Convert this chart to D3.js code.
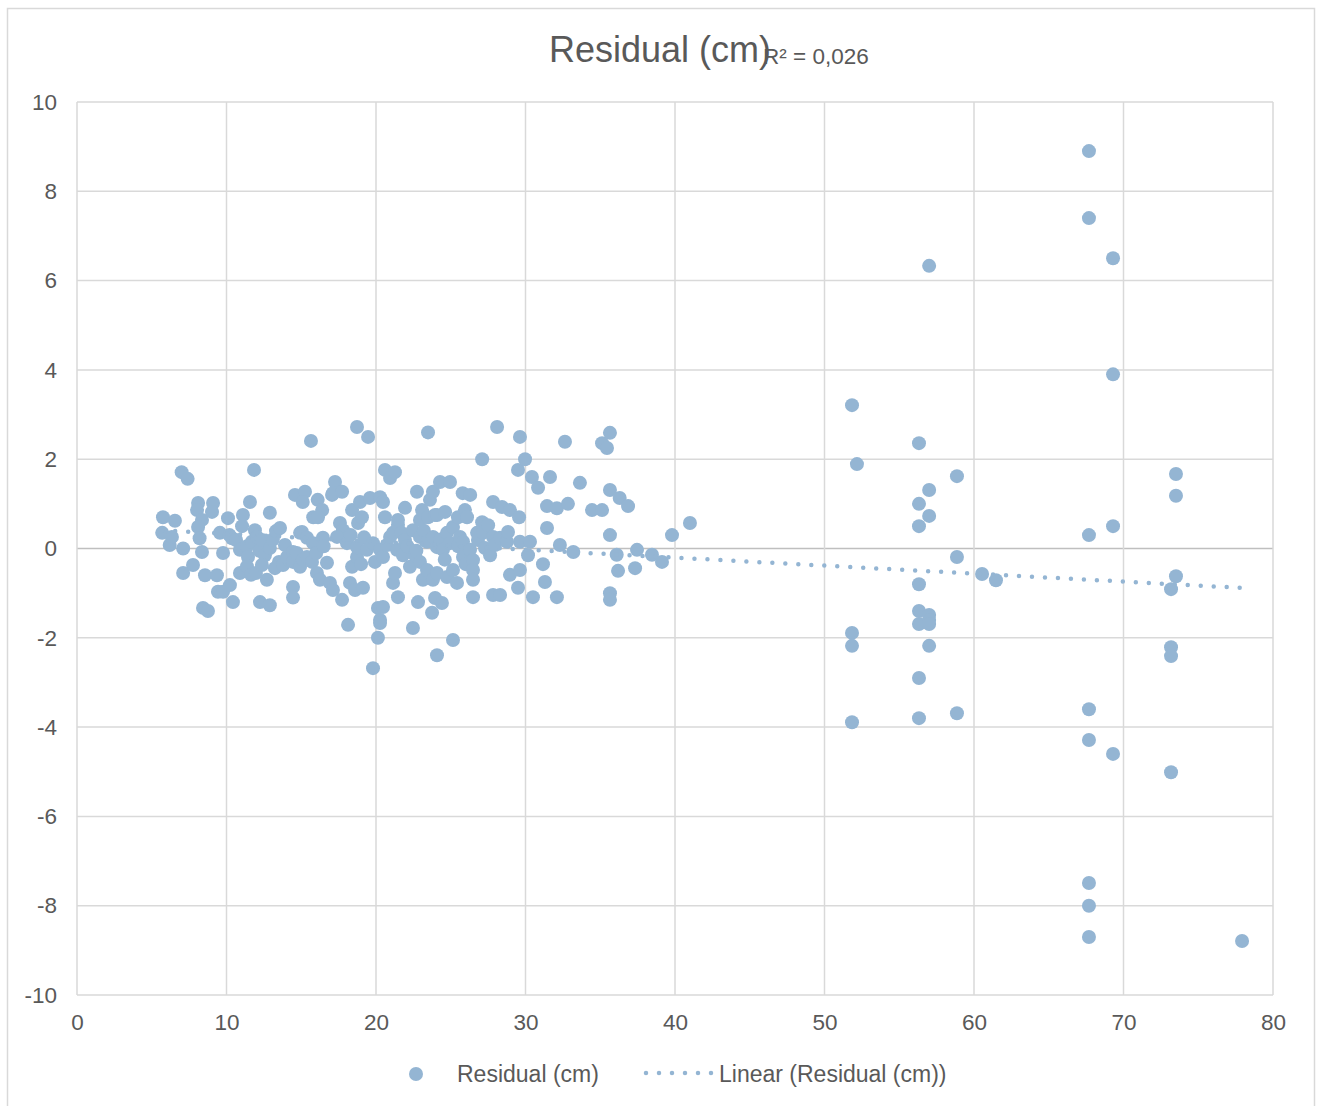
<!DOCTYPE html>
<html>
<head>
<meta charset="utf-8">
<script src="https://cdn.jsdelivr.net/npm/d3@7"></script>
<style>
	html, body { margin: 0; padding: 0; background: #fff; }
	svg text { font-family: "Liberation Sans", Arial, sans-serif; fill: #595959; }
</style>
</head>
<body>
<div id="chart"></div>
<script>
'use strict';

// chart values
var chartTitle   = 'Residual (cm)';
var seriesName   = 'Residual (cm)';
var trendName    = 'Linear (Residual (cm))';
var rSquaredText = 'R² = 0,026';
var xTicks = [0, 10, 20, 30, 40, 50, 60, 70, 80];
var yTicks = [-10, -8, -6, -4, -2, 0, 2, 4, 6, 8, 10];

// residual points, [x, residual]
var residuals = [
	// 5 - 15
	[5.7, 0.35], [5.75, 0.7], [6.2, 0.08], [6.35, 0.26], [6.55, 0.62], [7.0, 1.71], [7.4, 1.56],
	[7.1, 0.0], [7.1, -0.55], [7.76, -0.37], [8.1, 1.02], [8.03, 0.86], [8.36, 0.64], [8.1, 0.48],
	[8.2, 0.23], [8.36, -0.08], [8.56, -0.6], [8.43, -1.33], [8.76, -1.4], [9.1, 1.02], [9.03, 0.82],
	[9.56, 0.35], [9.36, -0.6], [9.43, -0.97], [9.77, -0.1], [9.77, -0.97], [10.1, 0.68], [10.37, 0.23],
	[10.2, 0.3], [10.64, 0.19], [10.9, -0.03], [10.23, -0.82], [10.43, -1.2], [10.9, -0.55], [11.1, 0.75],
	[11.04, 0.5], [11.57, 1.04], [11.84, 1.76], [11.37, 0.05], [11.44, -0.19], [11.37, -0.4], [11.64, -0.59],
	[11.7, 0.15], [11.97, -0.55], [11.9, 0.41], [12.04, 0.26], [12.2, -0.05], [12.37, 0.19], [12.57, -0.15],
	[12.37, -0.37], [12.7, -0.7], [12.24, -1.2], [12.9, 0.8], [12.9, 0.01], [12.9, -1.27], [13.1, 0.2],
	[13.31, 0.39], [13.58, 0.46], [13.51, -0.3], [13.24, -0.44], [13.78, -0.37], [13.91, 0.08], [14.18, -0.26],
	[14.05, -0.19], [14.45, -0.08], [14.45, -0.3], [14.45, -0.86], [14.45, -1.1], [14.58, 1.2], [14.7, -0.1],
	[14.92, 0.35], [14.92, -0.41],
	// 15 - 20
	[15.25, 1.27], [15.1, 1.04], [15.1, -0.25], [15.65, 2.41], [15.05, 0.37], [15.38, 0.24], [15.38, -0.19],
	[15.72, -0.3], [15.79, 0.12], [15.8, 0.7], [16.0, -0.1], [16.1, 1.09], [16.4, 0.86], [16.12, 0.7],
	[16.45, 0.24], [16.5, 0.05], [16.05, -0.55], [16.25, -0.7], [16.72, -0.32], [16.92, -0.77], [17.06, 1.2],
	[17.26, 1.49], [17.12, 1.24], [17.73, 1.27], [17.59, 0.57], [17.79, 0.41], [17.39, 0.26], [17.12, -0.93],
	[17.73, -1.15], [18.06, 0.12], [18.13, -1.71], [18.26, -0.77], [18.3, 0.3], [18.4, -0.41], [18.4, 0.86],
	[18.6, -0.93], [18.73, 2.72], [18.73, -0.19], [18.73, 0.03], [18.8, 0.57], [18.93, 1.04], [19.0, -0.35],
	[19.06, 0.7], [19.13, -0.88], [19.2, 0.25], [19.4, -0.03], [19.47, 2.5], [19.6, 1.13], [19.8, 0.12],
	[19.8, -2.68], [19.93, -0.3],
	// 20 - 30
	[20.13, -1.33], [20.13, -2.0], [20.27, -0.03], [20.27, 1.15], [20.27, -1.6], [20.27, -1.67],
	[20.47, 1.04], [20.47, -0.19], [20.47, -1.31], [20.6, 1.76], [20.6, 0.7], [20.74, 0.08], [20.94, 1.58],
	[20.94, 0.26], [21.14, 0.35], [21.14, -0.77], [21.27, 1.71], [21.27, -0.55], [21.4, -0.03], [21.47, 0.53],
	[21.47, 0.64], [21.47, -1.09], [21.7, 0.35], [21.8, -0.15], [21.94, 0.91], [21.94, 0.19], [22.1, 0.05],
	[22.27, -0.41], [22.47, 0.41], [22.47, -1.78], [22.61, -0.15], [22.7, -0.05], [22.74, 1.27], [22.81, -1.2],
	[22.94, 0.64], [22.94, 0.26], [22.94, -0.3], [23.08, 0.86], [23.14, -0.7], [23.2, 0.4], [23.41, 0.15],
	[23.41, -0.48], [23.48, 2.6], [23.48, 0.7], [23.61, 1.09], [23.75, -1.44], [23.81, 1.27], [23.81, 0.26],
	[23.81, -0.7], [23.95, 0.75], [23.95, -1.11], [24.08, 0.03], [24.08, 0.75], [24.08, -0.55], [24.08, -2.39],
	[24.28, 1.49], [24.3, 0.2], [24.41, -1.22], [24.48, -0.03], [24.6, -0.25], [24.62, 0.82], [24.75, 0.35],
	[24.75, -0.64], [24.95, 1.49], [24.95, 0.12], [25.15, 0.48], [25.15, -0.48], [25.15, -2.05], [25.42, -0.77],
	[25.48, 0.7], [25.5, 0.05], [25.62, 0.26], [25.8, 1.24], [25.82, 0.15], [25.82, -0.19], [25.95, 0.86],
	[26.0, -0.35], [26.09, 0.7], [26.29, -0.03], [26.3, 1.2], [26.49, -0.26], [26.49, -0.48], [26.49, -0.7],
	[26.49, -1.09], [26.76, 0.35], [26.82, 0.19], [27.1, 2.0], [27.1, 0.59], [27.16, 0.35], [27.29, 0.01],
	[27.5, 0.52], [27.63, -0.15], [27.83, 1.04], [27.83, 0.26], [27.83, -1.04], [27.96, 0.08], [28.1, 2.72],
	[28.3, 0.24], [28.3, -1.04], [28.43, 0.93], [28.76, 0.15], [28.83, 0.37], [28.96, 0.86], [28.96, -0.59],
	[29.5, 1.76], [29.5, -0.88], [29.57, 0.7], [29.63, 2.5], [29.63, 0.15], [29.63, -0.48], [29.97, 2.0],
	// 30 - 41
	[30.17, -0.15], [30.3, 0.15], [30.43, 1.6], [30.5, -1.09], [30.84, 1.36], [31.17, -0.35], [31.3, -0.75],
	[31.44, 0.95], [31.44, 0.46], [31.64, 1.6], [32.1, 0.9], [32.1, -1.09], [32.3, 0.08], [32.64, 2.39],
	[32.84, 1.0], [33.2, -0.08], [33.64, 1.47], [34.45, 0.86], [35.12, 2.36], [35.12, 0.86], [35.45, 2.25],
	[35.65, 2.59], [35.65, 1.31], [35.65, 0.3], [35.65, -1.0], [35.65, -1.15], [36.1, -0.14], [36.19, -0.5],
	[36.3, 1.13], [36.86, 0.95], [37.33, -0.44], [37.46, -0.03], [38.46, -0.14], [39.13, -0.3], [39.8, 0.3],
	[41.0, 0.57],
	// 50 - 78
	[51.84, 3.21], [52.17, 1.89], [51.84, -1.89], [51.84, -2.18], [51.84, -3.89],
	[56.32, 2.36], [56.32, 1.0], [56.32, 0.5], [56.32, -0.8], [56.32, -1.4], [56.32, -1.69], [56.32, -2.9], [56.32, -3.8],
	[57.0, 6.33], [57.0, 1.31], [57.0, 0.73], [57.0, -1.49], [57.0, -1.6], [57.0, -1.69], [57.0, -2.18],
	[58.86, 1.62], [58.86, -0.19], [58.86, -3.69], [60.54, -0.57], [61.47, -0.71],
	[67.69, 8.9], [67.69, 7.4], [67.69, 0.3], [67.69, -3.6], [67.69, -4.29], [67.69, -7.49], [67.69, -8.0], [67.69, -8.7],
	[69.3, 6.5], [69.3, 3.9], [69.3, 0.5], [69.3, -4.6],
	[73.18, -0.91], [73.18, -2.21], [73.18, -2.41], [73.18, -5.01], [73.51, 1.67], [73.51, 1.18], [73.51, -0.62],
	[77.93, -8.79]
];

// layout
var width  = 1319;
var height = 1106;
var plot   = { left: 77, right: 1273, top: 102, bottom: 995 };
var color  = '#94b5d3';
var grid   = '#d9d9d9';

var svg = d3.select('#chart').append('svg')
	.attr('width', width)
	.attr('height', height);

svg.append('rect')
	.attr('width', width)
	.attr('height', height)
	.attr('fill', '#fff');

// chart border
svg.append('rect')
	.attr('x', 7.5)
	.attr('y', 8.5)
	.attr('width', 1307)
	.attr('height', 1110)
	.attr('fill', 'none')
	.attr('stroke', grid)
	.attr('stroke-width', 1.5);

var x = d3.scaleLinear().domain([0, 80]).range([plot.left, plot.right]);
var y = d3.scaleLinear().domain([-10, 10]).range([plot.bottom, plot.top]);

// gridlines
svg.append('g')
	.selectAll('line')
	.data(yTicks)
	.enter()
	.append('line')
	.attr('x1', plot.left)
	.attr('x2', plot.right)
	.attr('y1', function(d){ return y(d); })
	.attr('y2', function(d){ return y(d); })
	.attr('stroke', function(d){ return d === 0 ? '#bfbfbf' : grid; })
	.attr('stroke-width', 1.5);

svg.append('g')
	.selectAll('line')
	.data(xTicks)
	.enter()
	.append('line')
	.attr('x1', function(d){ return x(d); })
	.attr('x2', function(d){ return x(d); })
	.attr('y1', plot.top)
	.attr('y2', plot.bottom)
	.attr('stroke', grid)
	.attr('stroke-width', 1.5);

// axes, labels only (plain hyphen for negatives, like the original)
var plain = function(d){ return String(d); };
var yAxis = svg.append('g')
	.attr('transform', 'translate(' + (plot.left - 20) + ',0)')
	.call(d3.axisLeft(y).tickValues(yTicks).tickFormat(plain).tickSize(0).tickPadding(0));
var xAxis = svg.append('g')
	.attr('transform', 'translate(0,' + (plot.bottom + 19) + ')')
	.call(d3.axisBottom(x).tickValues(xTicks).tickFormat(plain).tickSize(0).tickPadding(0));

[xAxis, yAxis].forEach(function(a){
	a.select('.domain').remove();
	a.selectAll('text')
		.style('font-size', '22.5px')
		.attr('fill', '#595959')
		.style('font-family', '"Liberation Sans", Arial, sans-serif');
});

// linear trendline (least squares)
var mx = d3.mean(residuals, function(d){ return d[0]; });
var my = d3.mean(residuals, function(d){ return d[1]; });
var sxy = d3.sum(residuals, function(d){ return (d[0] - mx) * (d[1] - my); });
var sxx = d3.sum(residuals, function(d){ return (d[0] - mx) * (d[0] - mx); });
var slope = sxy / sxx;
var intercept = my - slope * mx;
var xExtent = d3.extent(residuals, function(d){ return d[0]; });

// points
svg.append('g')
	.selectAll('circle')
	.data(residuals)
	.enter()
	.append('circle')
	.attr('cx', function(d){ return x(d[0]); })
	.attr('cy', function(d){ return y(d[1]); })
	.attr('r', 7)
	.attr('fill', color);

svg.append('path')
	.datum(xExtent)
	.attr('d', d3.line()
		.x(function(d){ return x(d); })
		.y(function(d){ return y(intercept + slope * d); }))
	.attr('fill', 'none')
	.attr('stroke', color)
	.attr('stroke-width', 4.5)
	.attr('stroke-linecap', 'round')
	.attr('stroke-dasharray', '0 13');

// title and r squared
svg.append('text')
	.attr('x', 660)
	.attr('y', 62)
	.attr('text-anchor', 'middle')
	.style('font-size', '36px')
	.text(chartTitle);

svg.append('text')
	.attr('x', 763)
	.attr('y', 64)
	.style('font-size', '22.5px')
	.text(rSquaredText);

// legend
var legend = svg.append('g');
legend.append('circle')
	.attr('cx', 416)
	.attr('cy', 1074)
	.attr('r', 7)
	.attr('fill', color);
legend.append('text')
	.attr('x', 457)
	.attr('y', 1082)
	.style('font-size', '23px')
	.text(seriesName);
legend.append('line')
	.attr('x1', 646)
	.attr('x2', 712)
	.attr('y1', 1073)
	.attr('y2', 1073)
	.attr('stroke', color)
	.attr('stroke-width', 4.5)
	.attr('stroke-linecap', 'round')
	.attr('stroke-dasharray', '0 13');
legend.append('text')
	.attr('x', 719)
	.attr('y', 1082)
	.style('font-size', '23px')
	.text(trendName);
</script>
</body>
</html>
